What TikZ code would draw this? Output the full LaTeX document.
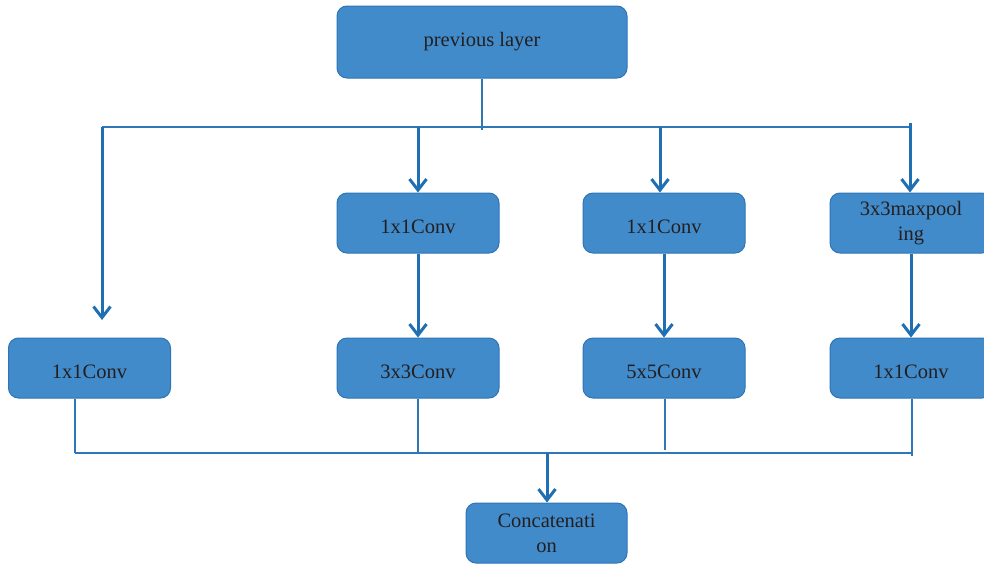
\documentclass[tikz,border=0pt]{standalone}
\usepackage{fontspec}
\setmainfont{Liberation Serif}
\usetikzlibrary{arrows.meta}
\definecolor{boxfill}{HTML}{428BCA}
\definecolor{boxdraw}{HTML}{2E75B6}
\definecolor{arrc}{HTML}{1F6FB2}
\definecolor{linec}{HTML}{2E78B8}
\definecolor{txt}{HTML}{231F20}
\begin{document}
\begin{tikzpicture}[x=1pt,y=-1pt,
  blk/.style={draw=boxdraw, line width=1pt, fill=boxfill, rounded corners=10pt,
    minimum width=162pt, minimum height=60pt, text=txt,
    font=\fontsize{20.5}{25}\selectfont, align=center, inner sep=0pt},
  low/.style={text height=20pt, text depth=0pt},
  arr/.style={draw=arrc, line width=3pt, -{Straight Barb[length=11pt,width=17pt]}},
  ln/.style={draw=linec, line width=1.3pt}]
\useasboundingbox (0,0) rectangle (984,565);
\clip (0,0) rectangle (984,565);

\node[blk, minimum width=290pt, minimum height=72pt] (prev) at (482,42) {previous layer};
\node[blk, low] (c1) at (418,223) {1x1Conv};
\node[blk, low] (c2) at (664,223) {1x1Conv};
\node[blk] (mp) at (911,223) {3x3maxpool\\ing};
\node[blk, low] (r1) at (89.5,368) {1x1Conv};
\node[blk, low] (r2) at (418,368) {3x3Conv};
\node[blk, low] (r3) at (664,368) {5x5Conv};
\node[blk, low] (r4) at (911,368) {1x1Conv};
\node[blk, minimum width=161pt] (cat) at (546.5,533) {Concatenati\\on};

% top distribution bus
\coordinate (stem) at (482,130);
\coordinate (busL) at (102,127);
\coordinate (busR) at (910,127);
\coordinate (b2) at (418,127);
\coordinate (b3) at (660,127);
\coordinate (b4) at (910,123);
\coordinate (t1) at (102,320);
\draw[ln] (prev.south) -- (stem);
\draw[ln] (busL) -- (busR);
\draw[arr] (busL) -- (t1);
\draw[arr] (b2) -- (c1.north);
\draw[arr] (b3) -- (c2.north -| b3);
\draw[arr] (b4) -- (mp.north -| b4);

% second stage arrows
\draw[arr] (c1.south) -- (r2.north);
\draw[arr] (c2.south) -- (r3.north);
\draw[arr] (mp.south) -- (r4.north);

% bottom collecting bus
\coordinate (d1) at (75,453);
\coordinate (d2) at (418,453);
\coordinate (d3) at (665,450);
\coordinate (d4) at (912,456);
\coordinate (d5) at (912,453);
\coordinate (e) at (547,453);
\draw[ln] (r1.south -| d1) -- (d1);
\draw[ln] (r2.south) -- (d2);
\draw[ln] (r3.south -| d3) -- (d3);
\draw[ln] (r4.south -| d4) -- (d4);
\draw[ln] (d1) -- (d5);
\draw[arr] (e) -- (cat.north -| e);
\end{tikzpicture}
\end{document}
